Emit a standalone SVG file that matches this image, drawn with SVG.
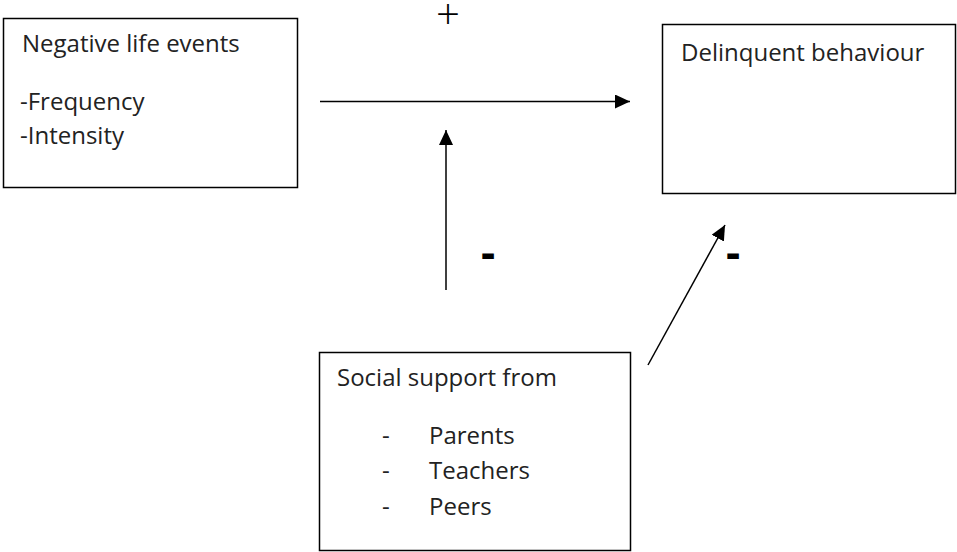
<svg xmlns="http://www.w3.org/2000/svg" width="957" height="552" viewBox="0 0 957 552">
<style>
.box{fill:#fff;stroke:#000;stroke-width:1.5}
.t{font-family:"Open Sans","Liberation Sans",sans-serif;font-size:24px;fill:#222}
.c{stroke:#000;stroke-width:1.5;fill:none}
.s{font-family:"Open Sans","Liberation Sans",sans-serif;fill:#000}
</style>
<defs>
<marker id="ah" markerWidth="16" markerHeight="14" refX="15" refY="7" orient="auto" markerUnits="userSpaceOnUse">
<path d="M0,0 L15,7 L0,14 Z" fill="#000"/>
</marker>
</defs>
<rect width="957" height="552" fill="#fff"/>
<g id="negative-life-events">
<rect class="box" x="3.5" y="18.5" width="294" height="169"/>
<text class="t" x="22" y="52">Negative life events</text>
<text class="t" x="20" y="110">-Frequency</text>
<text class="t" x="20" y="144">-Intensity</text>
</g>
<g id="delinquent-behaviour">
<rect class="box" x="662.5" y="24.5" width="293" height="169"/>
<text class="t" x="681" y="61">Delinquent behaviour</text>
</g>
<g id="social-support">
<rect class="box" x="319.5" y="352.5" width="311" height="198"/>
<text class="t" x="337" y="386">Social support from</text>
<text class="t" x="382" y="444">-</text>
<text class="t" x="429" y="444">Parents</text>
<text class="t" x="382" y="479">-</text>
<text class="t" x="429" y="479">Teachers</text>
<text class="t" x="382" y="515">-</text>
<text class="t" x="429" y="515">Peers</text>
</g>
<g id="connectors">
<line class="c" x1="320" y1="101.5" x2="630" y2="101.5" marker-end="url(#ah)"/>
<line class="c" x1="446" y1="290" x2="446" y2="130" marker-end="url(#ah)"/>
<line class="c" x1="648" y1="365" x2="725" y2="225" marker-end="url(#ah)"/>
</g>
<g id="labels">
<text class="s" x="448" y="29" font-size="42" font-weight="300" text-anchor="middle">+</text>
<text class="s" x="488" y="268" font-size="44" font-weight="bold" text-anchor="middle">-</text>
<text class="s" x="733" y="268" font-size="44" font-weight="bold" text-anchor="middle">-</text>
</g>
</svg>
